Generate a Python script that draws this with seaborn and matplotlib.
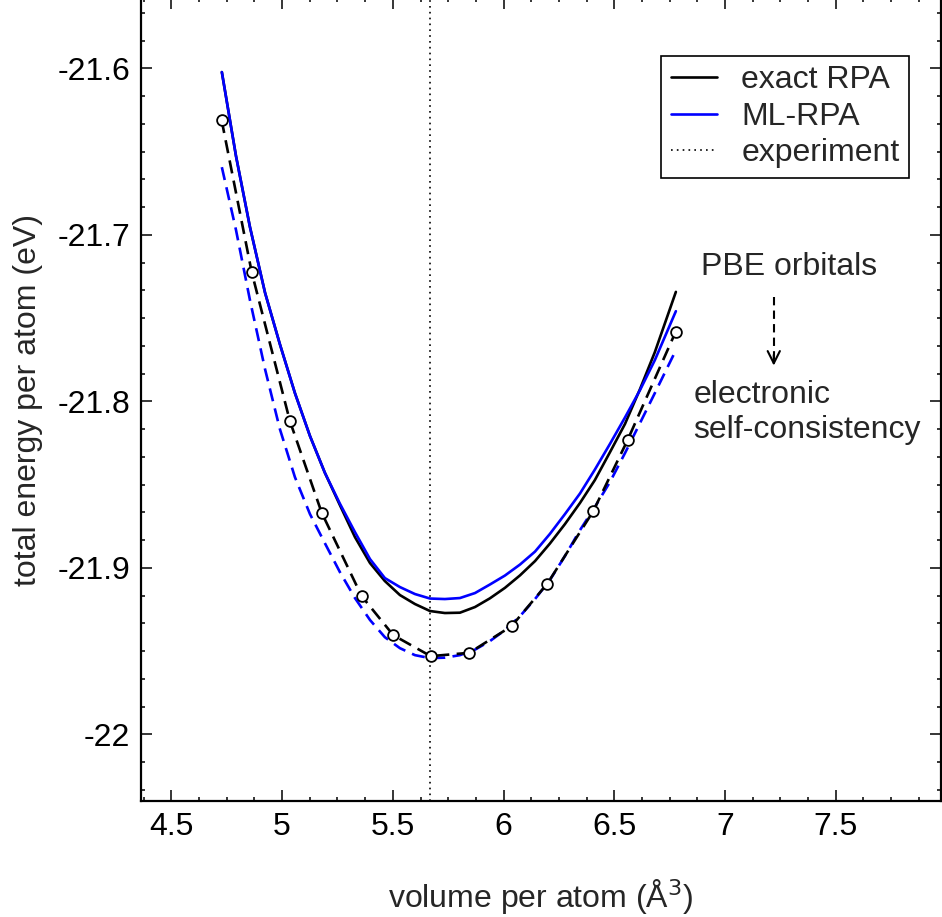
import numpy as np
import pandas as pd
import matplotlib
matplotlib.use("Agg")
import matplotlib.pyplot as plt
from matplotlib.ticker import MultipleLocator
import seaborn as sns

# ---- data ----
vol_line = [4.728, 4.792, 4.855, 4.923, 4.990, 5.058, 5.126, 5.193, 5.261, 5.329,
            5.397, 5.464, 5.532, 5.600, 5.668, 5.735, 5.803, 5.871, 5.938, 6.006,
            6.074, 6.142, 6.209, 6.277, 6.345, 6.412, 6.480, 6.548, 6.616, 6.683, 6.778]

exact_rpa = [-21.6022, -21.6527, -21.6953, -21.7347, -21.7656, -21.7950, -21.8208, -21.8428,
             -21.8623, -21.8815, -21.8971, -21.9079, -21.9163, -21.9217, -21.9259, -21.9271,
             -21.9269, -21.9235, -21.9183, -21.9120, -21.9045, -21.8959, -21.8854, -21.8737,
             -21.8610, -21.8473, -21.8306, -21.8136, -21.7926, -21.7704, -21.7342]

ml_rpa = [-21.6022, -21.6527, -21.6953, -21.7347, -21.7656, -21.7950, -21.8208, -21.8428,
          -21.8614, -21.8785, -21.8947, -21.9061, -21.9115, -21.9157, -21.9184, -21.9187,
          -21.9181, -21.9151, -21.9100, -21.9046, -21.8980, -21.8902, -21.8796, -21.8677,
          -21.8553, -21.8410, -21.8256, -21.8097, -21.7932, -21.7752, -21.7458]

ml_rpa_sc = [-21.6593, -21.6971, -21.7392, -21.7806, -21.8166, -21.8455, -21.8677, -21.8851,
             -21.9025, -21.9181, -21.9313, -21.9416, -21.9482, -21.9524, -21.9542, -21.9539,
             -21.9524, -21.9491, -21.9440, -21.9374, -21.9290, -21.9187, -21.9073, -21.8929,
             -21.8773, -21.8635, -21.8485, -21.8311, -21.8130, -21.7950, -21.7692]

vol_pts = [4.727, 4.863, 5.035, 5.179, 5.359, 5.502, 5.671, 5.845, 6.036, 6.198, 6.405, 6.560, 6.777]
exact_rpa_sc = [-21.6310, -21.7225, -21.8117, -21.8669, -21.9169, -21.9404, -21.9530,
                -21.9510, -21.9350, -21.9094, -21.8659, -21.8232, -21.7582]

v_experiment = 5.67

x_ticks = [4.5, 5, 5.5, 6, 6.5, 7, 7.5]
x_ticklabels = ["4.5", "5", "5.5", "6", "6.5", "7", "7.5"]
y_ticks = [-22.0, -21.9, -21.8, -21.7, -21.6]
y_ticklabels = ["-22", "-21.9", "-21.8", "-21.7", "-21.6"]

# ---- style ----
sns.set_style("ticks")
plt.rcParams['font.family'] = ['Liberation Sans', 'DejaVu Sans']
plt.rcParams['xtick.direction'] = 'in'
plt.rcParams['ytick.direction'] = 'in'
FS = 23

fig = plt.figure(figsize=(9.42, 9.17), dpi=100)
ax = fig.add_axes([141 / 942, 1 - 801 / 917, 800 / 942, 803 / 917])

df_lines = pd.DataFrame({"v": vol_line, "exact": exact_rpa, "ml": ml_rpa, "ml_sc": ml_rpa_sc})
df_pts = pd.DataFrame({"v": vol_pts, "e": exact_rpa_sc})

lw = 1.9
sns.lineplot(data=df_lines, x="v", y="exact", color="black", lw=lw, sort=False,
             estimator=None, ax=ax, label="exact RPA")
sns.lineplot(data=df_lines, x="v", y="ml", color="#0000ff", lw=lw, sort=False,
             estimator=None, ax=ax, label="ML-RPA")
ax.axvline(v_experiment, color="black", lw=1.2, ls=(0, (1, 2.5)), label="experiment")
sns.lineplot(data=df_lines, x="v", y="ml_sc", color="#0000ff", lw=lw, sort=False,
             estimator=None, ax=ax, ls=(0, (5, 2.8)), label="_nolegend_")
sns.lineplot(data=df_pts, x="v", y="e", color="black", lw=lw, sort=False,
             estimator=None, ax=ax, ls=(0, (5, 2.8)), label="_nolegend_")
ax.scatter(vol_pts, exact_rpa_sc, s=60, facecolors="white", edgecolors="black",
           linewidths=1.3, zorder=5)

ax.set_xlim(4.363, 7.975)
ax.set_ylim(-22.040, -21.5577)

ax.set_xticks(x_ticks)
ax.set_xticklabels(x_ticklabels)
ax.set_yticks(y_ticks)
ax.set_yticklabels(y_ticklabels)
ax.xaxis.set_minor_locator(MultipleLocator(0.125))
ax.yaxis.set_minor_locator(MultipleLocator(0.1 / 6))
ax.tick_params(which="both", direction="in", top=True, right=True, width=1.1,
               labelsize=FS, colors="black")
ax.tick_params(which="major", length=8, pad=8)
ax.tick_params(which="minor", length=3)
for s in ax.spines.values():
    s.set_linewidth(1.6)
    s.set_color("black")

ax.set_xlabel("volume per atom (Å$^3$)", fontsize=FS, labelpad=25)
ax.set_ylabel("total energy per atom (eV)", fontsize=FS, labelpad=10)

leg = ax.legend(loc="upper right", bbox_to_anchor=(0.96, 0.928), fontsize=FS,
                frameon=True, fancybox=False, edgecolor="black", framealpha=1,
                handlelength=1.45, handletextpad=0.75, labelspacing=0.2,
                borderpad=0.3, borderaxespad=0)
leg.get_frame().set_linewidth(1.2)

# annotation: dashed arrow from "PBE orbitals" to "electronic self-consistency"
ax.text(7.291, -21.7241, "PBE orbitals", fontsize=FS, ha="center", va="baseline")
ax.plot([7.22, 7.22], [-21.7372, -21.7770], color="black", lw=1.5, ls=(0, (4, 2.5)))
ax.annotate("", xy=(7.22, -21.7785), xytext=(7.22, -21.7720),
            arrowprops=dict(arrowstyle="->", color="black", lw=1.5,
                            mutation_scale=22, shrinkA=0, shrinkB=0))
ax.text(6.859, -21.8010, "electronic", fontsize=FS, ha="left", va="baseline")
ax.text(6.855, -21.8221, "self-consistency", fontsize=FS, ha="left", va="baseline")

fig.savefig("out.png", dpi=100)
